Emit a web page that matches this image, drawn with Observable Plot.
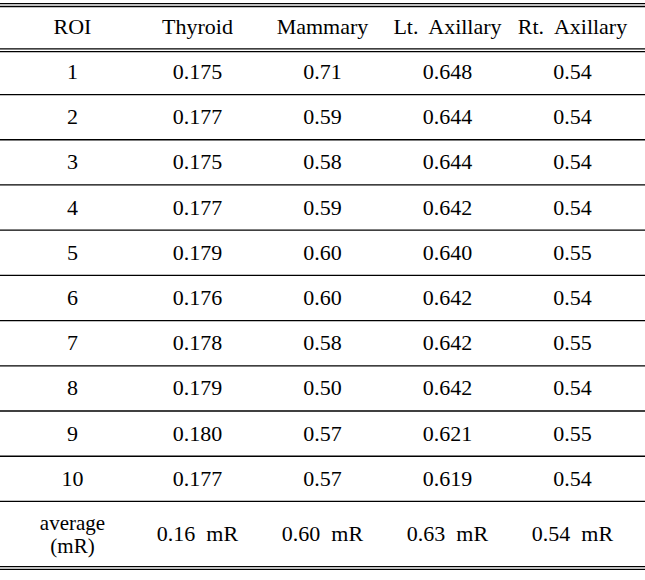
<!DOCTYPE html>
<html>
<head>
<meta charset="utf-8">
<script src="https://cdn.jsdelivr.net/npm/d3@7"></script>
<script src="https://cdn.jsdelivr.net/npm/@observablehq/plot@0.6"></script>
<style>
  html, body { margin: 0; padding: 0; background: #ffffff; }
  #chart svg, #chart svg text { font-family: "Liberation Serif", "DejaVu Serif", serif !important; }
  #chart svg text { white-space: pre; }
</style>
</head>
<body>
<div id="chart"></div>
<script>
// ---- data ----
const columns = ["ROI", "Thyroid", "Mammary", "Lt.  Axillary", "Rt.  Axillary"];
const roi = ["1", "2", "3", "4", "5", "6", "7", "8", "9", "10"];
const thyroid = ["0.175", "0.177", "0.175", "0.177", "0.179", "0.176", "0.178", "0.179", "0.180", "0.177"];
const mammary = ["0.71", "0.59", "0.58", "0.59", "0.60", "0.60", "0.58", "0.50", "0.57", "0.57"];
const ltAxillary = ["0.648", "0.644", "0.644", "0.642", "0.640", "0.642", "0.642", "0.642", "0.621", "0.619"];
const rtAxillary = ["0.54", "0.54", "0.54", "0.54", "0.55", "0.54", "0.55", "0.54", "0.55", "0.54"];
const averageLabel = "average\n(mR)";
const averages = ["0.16  mR", "0.60  mR", "0.63  mR", "0.54  mR"];

// ---- layout (row units) ----
const avgSpan = 1.45;               // the average row is taller than a data row
const nRows = roi.length;
const bottom = nRows + avgSpan;

// ---- build table cells ----
const cells = [];
columns.forEach(c => cells.push({col: c, row: -0.5, text: c}));
const dataCols = [roi, thyroid, mammary, ltAxillary, rtAxillary];
roi.forEach((_, i) => {
  dataCols.forEach((arr, j) => cells.push({col: columns[j], row: i + 0.5, text: arr[i]}));
});
const avgCells = [{col: columns[0], row: nRows + avgSpan / 2, text: averageLabel}];
averages.forEach((v, j) => cells.push({col: columns[j + 1], row: nRows + avgSpan / 2, text: v}));

const singleRules = d3.range(1, nRows + 1);
const doubleRules = [-1, 0, bottom];
const serif = "Liberation Serif";

const chart = Plot.plot({
  width: 645,
  height: 580,
  margin: 0,
  style: {fontFamily: serif, background: "#ffffff", color: "#000"},
  x: {type: "point", domain: columns, range: [9, 635], padding: 0.5, axis: null},
  y: {domain: [-1, bottom], range: [3.6, 566.5], axis: null},
  marks: [
    Plot.ruleY(singleRules, {stroke: "#000", strokeWidth: 1.3}),
    Plot.ruleY(doubleRules, {stroke: "#000", strokeWidth: 1.3, dy: -0.4}),
    Plot.ruleY(doubleRules, {stroke: "#000", strokeWidth: 1.3, dy: 2.4}),
    Plot.text(cells, {x: "col", y: "row", text: "text", fontSize: 22, fontFamily: serif, fill: "#000"}),
    Plot.text(avgCells, {x: "col", y: "row", text: "text", fontSize: 21, lineHeight: 1.08, fontFamily: serif, fill: "#000"})
  ]
});
document.getElementById("chart").appendChild(chart);
</script>
</body>
</html>
